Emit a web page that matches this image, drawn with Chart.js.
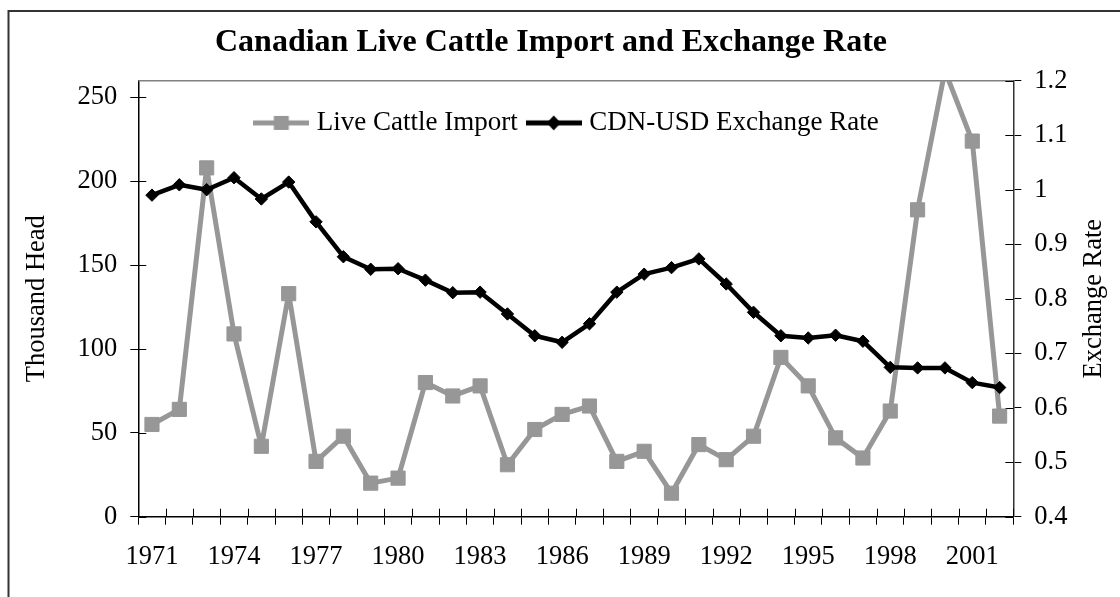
<!DOCTYPE html>
<html>
<head>
<meta charset="utf-8">
<title>Canadian Live Cattle Import and Exchange Rate</title>
<script src="https://cdn.jsdelivr.net/npm/chart.js@4.4.1/dist/chart.umd.min.js"></script>
<style>
  body { margin: 0; background: #fff; }
  #wrap { width: 1120px; height: 597px; }
</style>
</head>
<body>
<div id="wrap"><canvas id="myChart" width="1120" height="597"></canvas></div>
<script>
// data
var years = ['1971','1972','1973','1974','1975','1976','1977','1978','1979','1980',
  '1981','1982','1983','1984','1985','1986','1987','1988','1989','1990',
  '1991','1992','1993','1994','1995','1996','1997','1998','1999','2000','2001','2002'];
var cattleImport = [55, 64, 208, 109, 42, 133, 33, 48, 20, 23,
  80, 72, 78, 31, 52, 61, 66, 33, 39, 14,
  43, 34, 48, 95, 78, 47, 35, 63, 183, 266, 224, 60];
var exchangeRate = [0.990, 1.009, 1.000, 1.022, 0.983, 1.014, 0.941, 0.877, 0.854, 0.855,
  0.834, 0.811, 0.812, 0.772, 0.732, 0.720, 0.754, 0.812, 0.845, 0.857,
  0.873, 0.827, 0.775, 0.732, 0.728, 0.733, 0.722, 0.674, 0.673, 0.673, 0.646, 0.637];
var yearLabels = ['1971','1974','1977','1980','1983','1986','1989','1992','1995','1998','2001'];
var headTicks = [0, 50, 100, 150, 200, 250];
var rateTicks = [0.4, 0.5, 0.6, 0.7, 0.8, 0.9, 1.0, 1.1, 1.2];

var serif = "'Liberation Serif', 'Times New Roman', serif";
var grey = '#979797';

Chart.defaults.font.family = serif;
Chart.defaults.font.size = 26.5;
Chart.defaults.color = '#000';

// little line+marker pictures for the legend
function legendIcon(color, shape){
  var c = document.createElement('canvas');
  c.width = 56; c.height = 18;
  var g = c.getContext('2d');
  g.strokeStyle = color;
  g.fillStyle = color;
  g.lineWidth = 5;
  g.beginPath(); g.moveTo(0, 9); g.lineTo(56, 9); g.stroke();
  if (shape === 'rect') {
    g.fillRect(20.5, 2, 15, 14);
  } else {
    g.beginPath();
    g.moveTo(21, 9); g.lineTo(28, 1.5); g.lineTo(35, 9); g.lineTo(28, 16.5);
    g.closePath(); g.fill();
  }
  return c;
}
var icons = [legendIcon(grey, 'rect'), legendIcon('#000', 'diamond')];

// frame, plot top line, inner halves of the ticks, right axis title
var extras = {
  id: 'extras',
  afterLayout: function(chart){
    // title and legend get placed by hand: the legend sits inside the plot
    var t = chart.titleBlock;
    var th = t.height;
    t.top = 28.1; t.bottom = t.top + th;

    var lg = chart.legend;
    var lw = lg.lineWidths[0];
    var curX = (lg.left + 14 + lg.right - lw) / 2;
    var shift = 259.3 - curX;
    lg.left += shift; lg.right += shift;
    var h = lg.height;
    lg.top = 95.4; lg.bottom = lg.top + h;
  },
  beforeDatasetsDraw: function(chart){
    var ctx = chart.ctx, a = chart.chartArea;
    var xs = chart.scales.x, yl = chart.scales.y, yr = chart.scales.y1;
    ctx.save();
    ctx.strokeStyle = '#808080';
    ctx.lineWidth = 1.5;
    ctx.beginPath(); ctx.moveTo(a.left, a.top); ctx.lineTo(a.right, a.top); ctx.stroke();

    ctx.strokeStyle = '#000';
    ctx.lineWidth = 1;
    ctx.beginPath();
    for (var i = 0; i <= years.length; i++) {
      var x = Math.round(xs.getPixelForValue(i - 0.5)) + 0.5;
      ctx.moveTo(x, a.bottom); ctx.lineTo(x, a.bottom - 8);
    }
    yl.ticks.forEach(function(t, i){
      var y = Math.round(yl.getPixelForTick(i)) + 0.5;
      ctx.moveTo(a.left, y); ctx.lineTo(a.left + 8, y);
    });
    yr.ticks.forEach(function(t, i){
      var y = Math.round(yr.getPixelForTick(i)) + 0.5;
      ctx.moveTo(a.right, y); ctx.lineTo(a.right - 8, y);
    });
    ctx.stroke();
    ctx.restore();
  },
  afterDraw: function(chart){
    var ctx = chart.ctx, a = chart.chartArea;
    ctx.save();
    ctx.strokeStyle = '#333';
    ctx.lineWidth = 2;
    ctx.beginPath();
    ctx.moveTo(8.5, chart.height); ctx.lineTo(8.5, 11); ctx.lineTo(chart.width, 11);
    ctx.stroke();

    ctx.translate(a.right + 81, (a.top + a.bottom) / 2);
    ctx.rotate(-Math.PI / 2);
    ctx.font = '26.5px ' + serif;
    ctx.fillStyle = '#000';
    ctx.textAlign = 'center';
    ctx.textBaseline = 'middle';
    ctx.fillText('Exchange Rate', 0, 0);
    ctx.restore();
  }
};

var ctx = document.getElementById('myChart');
var chart = new Chart(ctx, {
  type: 'line',
  data: {
    labels: years,
    datasets: [{
      label: 'Live Cattle Import',
      data: cattleImport,
      yAxisID: 'y',
      borderColor: grey,
      backgroundColor: grey,
      borderWidth: 5,
      borderJoinStyle: 'round',
      pointStyle: 'rect',
      pointRadius: 10,
      pointHoverRadius: 10,
      pointBorderWidth: 1,
      tension: 0,
      clip: 0,
      order: 1
    }, {
      label: 'CDN-USD Exchange Rate',
      data: exchangeRate,
      yAxisID: 'y1',
      borderColor: '#000',
      backgroundColor: '#000',
      borderWidth: 4.5,
      borderJoinStyle: 'round',
      pointStyle: 'rectRot',
      pointRadius: 6.2,
      pointHoverRadius: 6.2,
      pointBorderWidth: 1,
      tension: 0,
      order: 0
    }]
  },
  options: {
    responsive: false,
    devicePixelRatio: 1,
    animation: false,
    layout: { padding: { left: 21, right: 39, top: 0, bottom: 0 } },
    plugins: {
      title: {
        display: true,
        text: 'Canadian Live Cattle Import and Exchange Rate',
        color: '#000',
        font: { size: 32, weight: 'bold', family: serif, lineHeight: 0.928 },
        padding: { top: 0, bottom: 0 }
      },
      legend: {
        position: 'top',
        labels: {
          usePointStyle: true,
          pointStyleWidth: 44,
          padding: 14,
          boxHeight: 10,
          color: '#000',
          font: { size: 27, family: serif },
          sort: function(a, b){ return a.datasetIndex - b.datasetIndex; },
          generateLabels: function(chart){
            var items = Chart.defaults.plugins.legend.labels.generateLabels(chart);
            items.forEach(function(it){ it.pointStyle = icons[it.datasetIndex]; });
            return items;
          }
        }
      },
      tooltip: { enabled: false }
    },
    scales: {
      x: {
        offset: true,
        afterFit: function(s){ s.height = 80.3; },
        grid: { display: true, drawOnChartArea: false, drawTicks: true, tickLength: 8, color: '#000', offset: true },
        border: { display: true, color: '#000', width: 1.5 },
        ticks: {
          autoSkip: false,
          maxRotation: 0,
          padding: 16,
          callback: function(value){
            var y = this.getLabelForValue(value);
            return yearLabels.indexOf(y) >= 0 ? y : '';
          }
        }
      },
      y: {
        position: 'left',
        min: 0,
        max: 260,
        afterFit: function(s){ s.width = 117.3; },
        afterBuildTicks: function(s){ s.ticks = headTicks.map(function(v){ return { value: v }; }); },
        grid: { display: true, drawOnChartArea: false, drawTicks: true, tickLength: 8, color: '#000' },
        border: { display: true, color: '#000', width: 1.5 },
        ticks: { padding: 13 },
        title: { display: true, text: 'Thousand Head', font: { size: 26.5, family: serif }, padding: 0 }
      },
      y1: {
        position: 'right',
        min: 0.4,
        max: 1.2,
        afterFit: function(s){ s.width = 67.7; },
        afterBuildTicks: function(s){ s.ticks = rateTicks.map(function(v){ return { value: v }; }); },
        grid: { display: true, drawOnChartArea: false, drawTicks: true, tickLength: 8, color: '#000' },
        border: { display: true, color: '#333', width: 1.5 },
        ticks: {
          padding: 13,
          callback: function(v){ return String(Math.round(v * 10) / 10); }
        }
      }
    }
  },
  plugins: [extras]
});
</script>
</body>
</html>
